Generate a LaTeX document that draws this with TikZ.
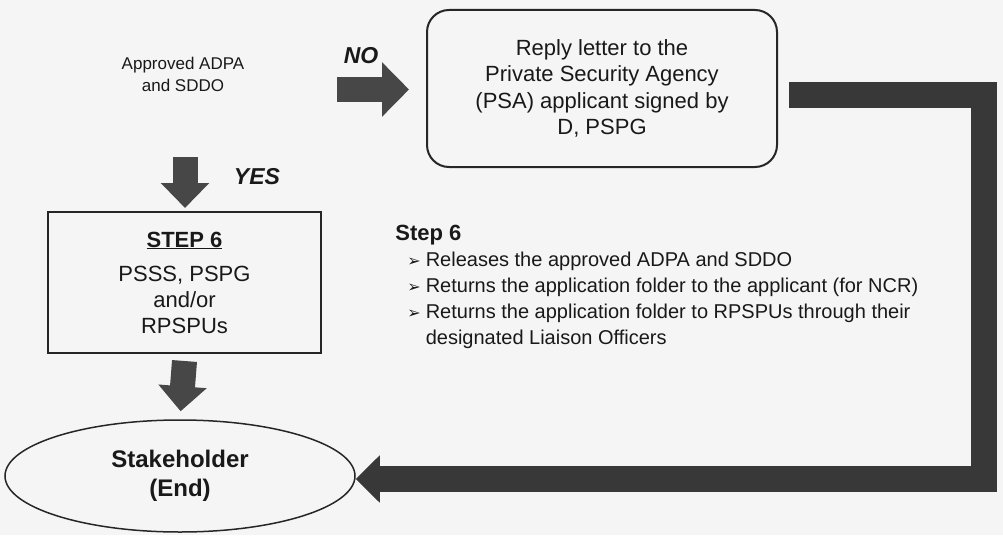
\documentclass[tikz,border=0pt]{standalone}
\usepackage{fontspec}
\setmainfont{Liberation Sans}
\newfontfamily\dingfont{DejaVu Sans}
\usetikzlibrary{arrows.meta,shapes.geometric}

\tikzset{every picture/.style={line width=0.75pt}}
\tikzset{
  fatarrow/.style={draw=black!72, line width=25pt, -{Triangle[width=53pt,length=27pt]}},
  downarrow/.style={fatarrow, -{Triangle[width=47pt,length=25pt]}},
  boxline/.style={draw=black!85, line width=2pt},
  txt/.style={inner sep=0.75pt, text=black!90, align=center},
}
\newcommand{\bul}{{\dingfont\fontsize{16}{16}\selectfont ➢}}

\begin{document}
\begin{tikzpicture}[x=1pt,y=1pt,yscale=-1,xscale=1]
%paper
\fill[black!4] (0,0) rectangle (1003,535);

%Flowchart: Alternative Process [reply]
\node[boxline, rounded corners=22pt, minimum width=350pt, minimum height=157pt, txt, font=\fontsize{22}{26.5}\selectfont] (reply) at (602,88.5) {Reply letter to the\\Private Security Agency\\(PSA) applicant signed by\\D, PSPG};
%Flowchart: Process [step]
\node[boxline, minimum width=273pt, minimum height=141pt, txt, font=\fontsize{22}{26}\selectfont] (step) at (184.5,282.5) {\textbf{\underline{STEP 6}}\\[8pt]PSSS, PSPG\\and/or\\RPSPUs};
%Flowchart: Terminator [stake]
\node[ellipse, draw=black!85, line width=1.5pt, minimum width=350pt, minimum height=112pt, inner sep=0pt, txt, font=\bfseries\fontsize{24}{29}\selectfont] (stake) at (180,476) {Stakeholder\\(End)};

% Text Node
\node[txt, font=\fontsize{17}{22}\selectfont] (approved) at (183,74) {Approved ADPA\\and SDDO};
% Text Node
\node[txt, font=\bfseries\itshape\fontsize{23}{23}\selectfont] (no) at (361,56) {NO};
% Text Node
\node[txt, font=\bfseries\itshape\fontsize{23}{23}\selectfont] (yes) at (257,177) {YES};
% Text Node
\node[anchor=north west, inner sep=0pt, text=black!90, font=\fontsize{20}{26}\selectfont] (steptxt) at (395,222) {\begin{tabular}{@{}l@{\hspace{5pt}}l@{}}
\multicolumn{2}{@{}l}{\fontsize{22}{26}\selectfont\bfseries Step 6}\\
\hspace{12pt}\bul & Releases the approved ADPA and SDDO\\
\hspace{12pt}\bul & Returns the application folder to the applicant (for NCR)\\
\hspace{12pt}\bul & Returns the application folder to RPSPUs through their\\
 & designated Liaison Officers
\end{tabular}};

%Block Arrows
\coordinate (noS) at (337,89.5);
\coordinate (yesS) at (185,157);
\coordinate (bend) at (983.5,95);
\draw[fatarrow, shorten >=17pt] (noS) -- (reply.west |- noS);
\draw[downarrow, shorten >=3pt] (yesS) -- (yesS |- step.north);
\draw[downarrow, shorten >=8pt] ([yshift=7pt]step.south) -- (stake.north);
\draw[fatarrow, draw=black!78, line width=26pt, -{Triangle[width=46pt,length=24pt]}] ([xshift=11pt,yshift=6.5pt]reply.east) -- (bend) |- ([yshift=3pt]stake.east);

\end{tikzpicture}
\end{document}
